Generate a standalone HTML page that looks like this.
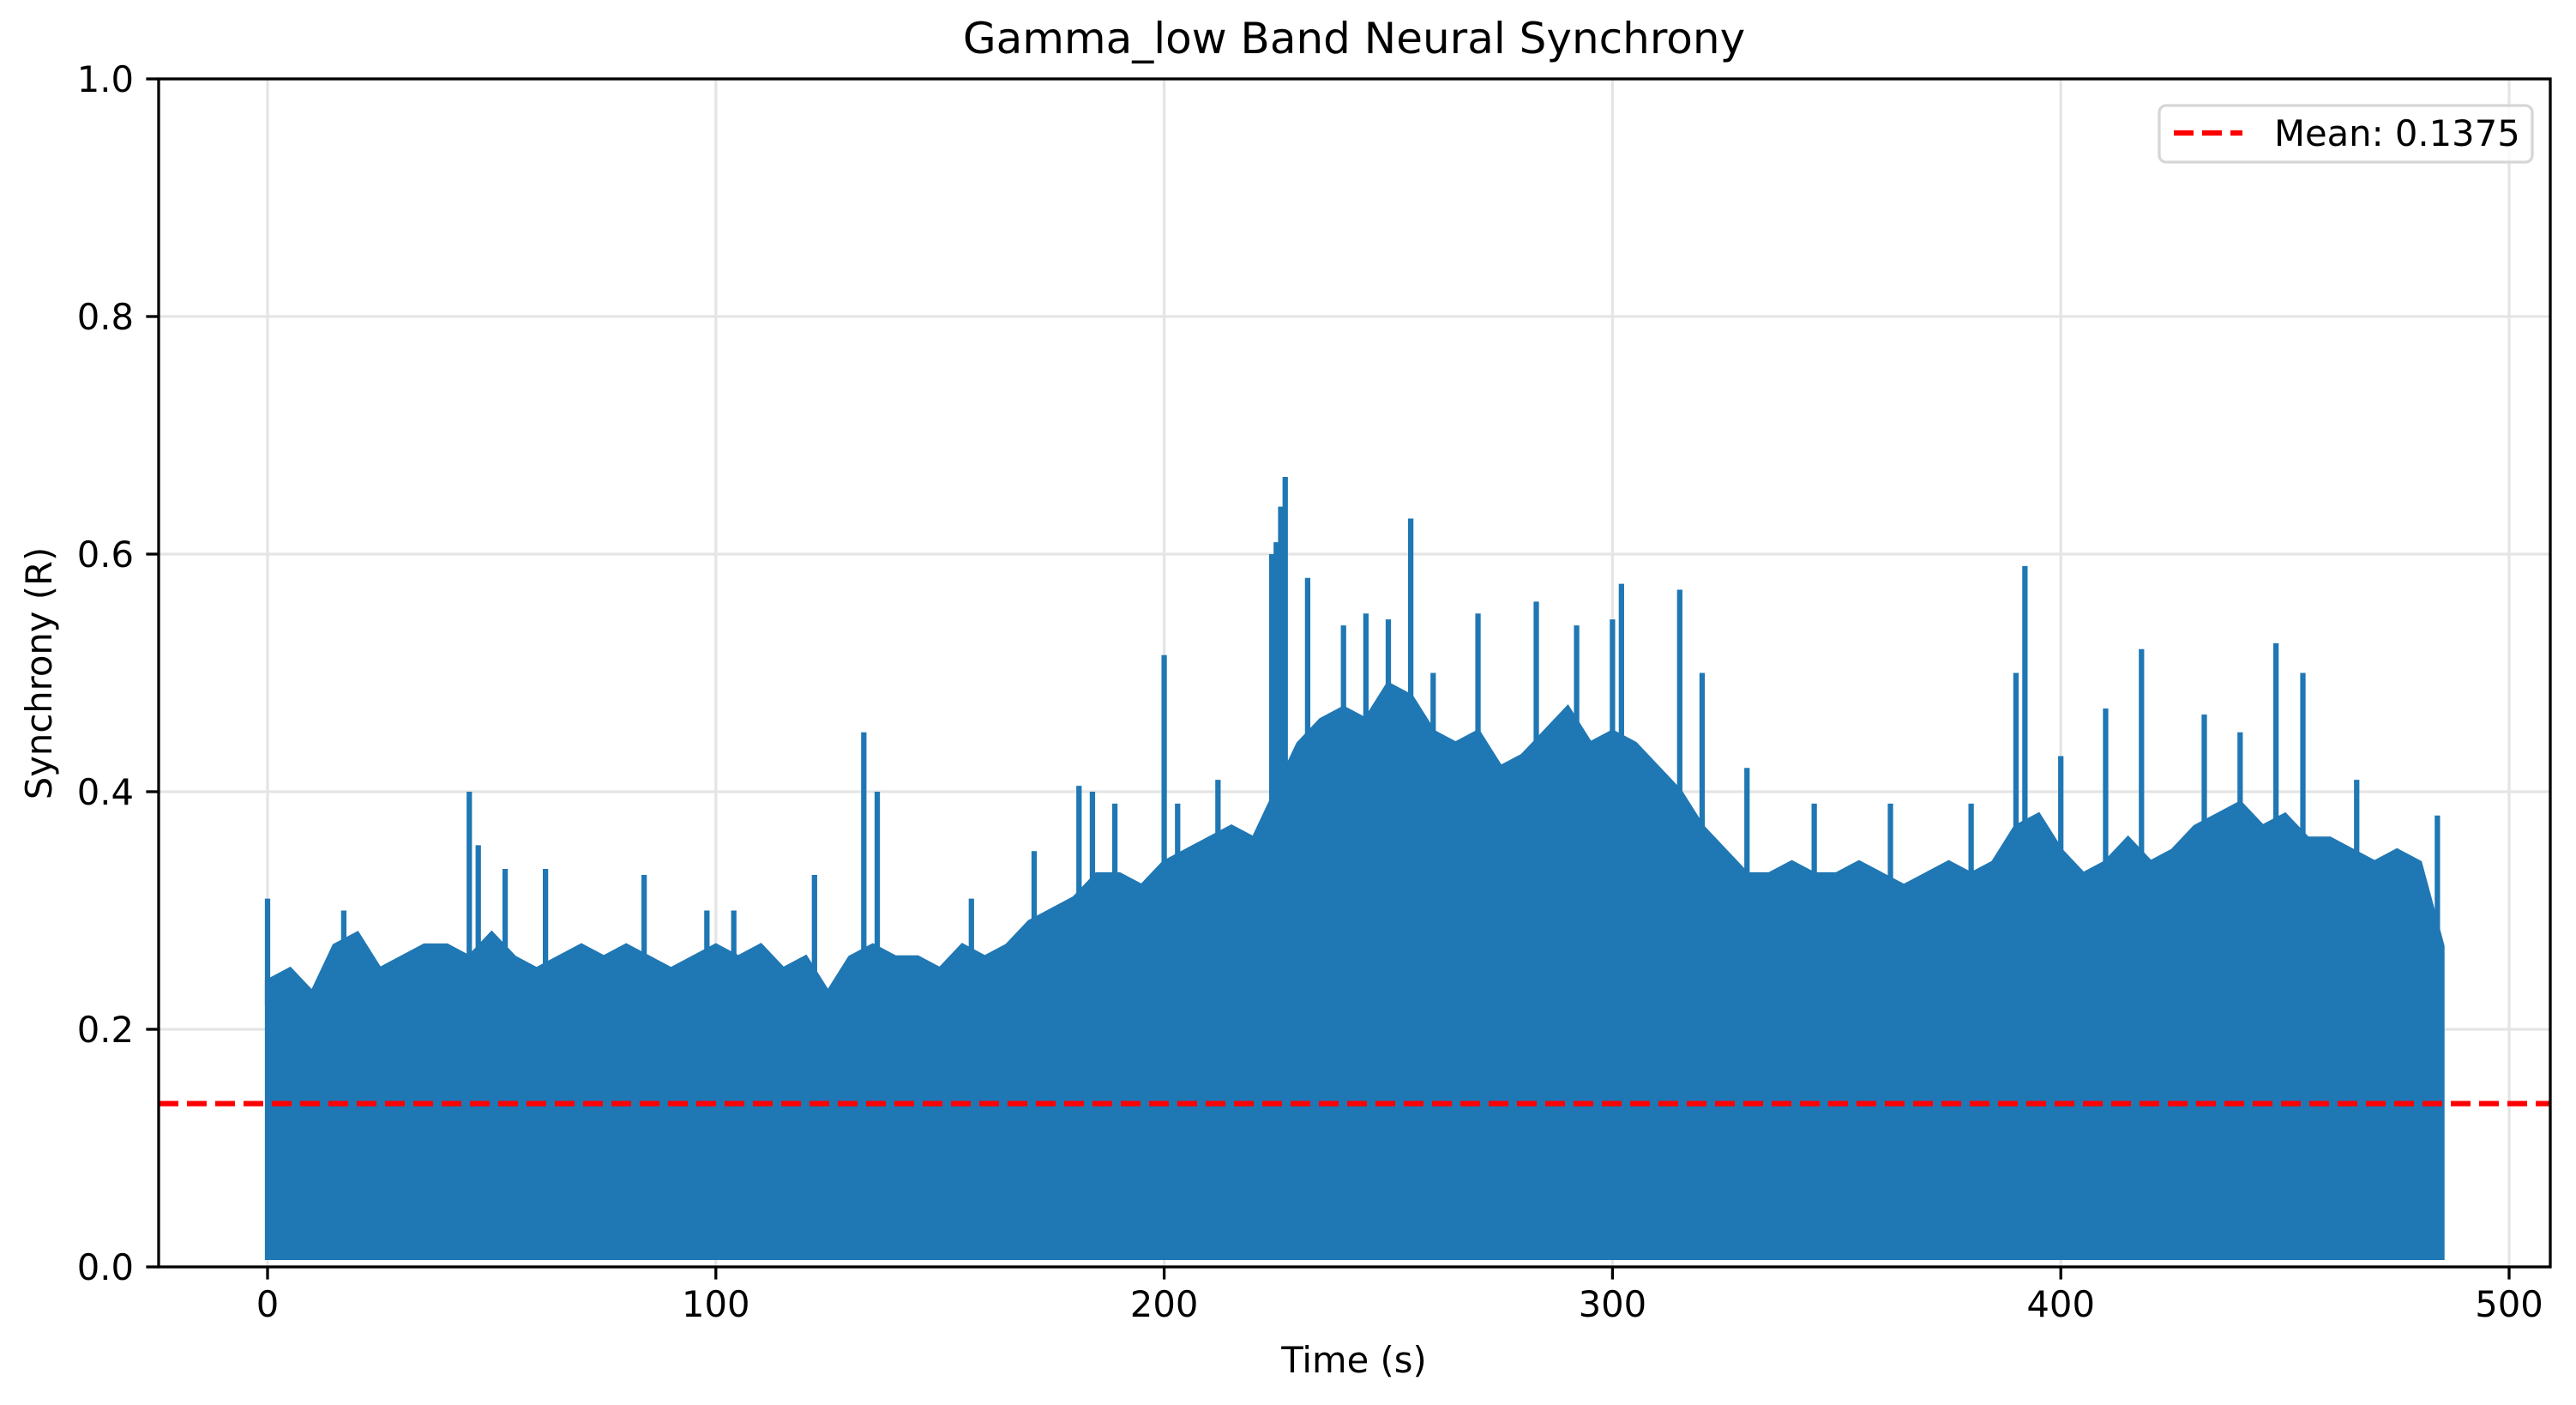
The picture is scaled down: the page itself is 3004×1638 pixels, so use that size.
<!DOCTYPE html>
<html><head><meta charset="utf-8"><style>
html,body{margin:0;padding:0;background:#fff;}
svg{display:block;font-family:"DejaVu Sans","Liberation Sans",sans-serif;}
</style></head><body>
<svg id="chart" width="3004" height="1638" viewBox="0 0 3004 1638" xmlns="http://www.w3.org/2000/svg">
<rect x="0" y="0" width="3004" height="1638" fill="#fff"/>
<g id="grid"></g>
<g id="series"></g>
<g id="meanline"></g>
<g id="axes"></g>
<text x="1579" y="62" font-size="50" text-anchor="middle">Gamma_low Band Neural Synchrony</text>
<text x="1579" y="1600" font-size="41.7" text-anchor="middle">Time (s)</text>
<text transform="translate(60,785) rotate(-90)" font-size="41.7" text-anchor="middle">Synchrony (R)</text>
<g>
<rect x="2518" y="123" width="435" height="66" rx="8" fill="#fff" fill-opacity="0.8" stroke="#d6d6d6" stroke-width="3.3"/>
<line x1="2535" y1="155" x2="2615" y2="155" stroke="#ff0000" stroke-width="6.25" stroke-dasharray="23,10"/>
<text x="2652" y="170" font-size="41.7">Mean: 0.1375</text>
</g>
</svg>
<script>
const xTicks=[0,100,200,300,400,500];
const yTicks=[0,0.2,0.4,0.6,0.8,1.0];
const yTickLabels=["0.0","0.2","0.4","0.6","0.8","1.0"];
const baseTimes=[0,5,10,15,20,25,30,35,40,45,50,55,60,65,70,75,80,85,90,95,100,105,110,115,120,125,130,135,140,145,150,155,160,165,170,175,180,185,190,195,200,205,210,215,220,225,230,235,240,245,250,255,260,265,270,275,280,285,290,295,300,305,310,315,320,325,330,335,340,345,350,355,360,365,370,375,380,385,390,395,400,405,410,415,420,425,430,435,440,445,450,455,460,465,470,475,480,485];
const baseValues=[0.24,0.25,0.23,0.27,0.28,0.25,0.26,0.27,0.27,0.26,0.28,0.26,0.25,0.26,0.27,0.26,0.27,0.26,0.25,0.26,0.27,0.26,0.27,0.25,0.26,0.23,0.26,0.27,0.26,0.26,0.25,0.27,0.26,0.27,0.29,0.30,0.31,0.33,0.33,0.32,0.34,0.35,0.36,0.37,0.36,0.40,0.44,0.46,0.47,0.46,0.49,0.48,0.45,0.44,0.45,0.42,0.43,0.45,0.47,0.44,0.45,0.44,0.42,0.40,0.37,0.35,0.33,0.33,0.34,0.33,0.33,0.34,0.33,0.32,0.33,0.34,0.33,0.34,0.37,0.38,0.35,0.33,0.34,0.36,0.34,0.35,0.37,0.38,0.39,0.37,0.38,0.36,0.36,0.35,0.34,0.35,0.34,0.27];
const lowValue=0.008;
const spikeTimes=[0,17,45,47,53,62,84,98,104,122,133,136,157,171,181,184,189,200,203,212,224,225,226,227,232,240,245,250,255,260,270,283,292,300,302,315,320,330,345,362,380,390,392,400,410,418,432,440,448,454,466,484];
const spikeValues=[0.31,0.30,0.40,0.355,0.335,0.335,0.33,0.30,0.30,0.33,0.45,0.40,0.31,0.35,0.405,0.40,0.39,0.515,0.39,0.41,0.60,0.61,0.64,0.665,0.58,0.54,0.55,0.545,0.63,0.50,0.55,0.56,0.54,0.545,0.575,0.57,0.50,0.42,0.39,0.39,0.39,0.50,0.59,0.43,0.47,0.52,0.465,0.45,0.525,0.50,0.41,0.38];
const meanValue=0.1375;

const L=185,R=2974,T=92,B=1477;
const xScale=t=>312+t*5.228;
const yScale=v=>B-v*(B-T);
const NS="http://www.w3.org/2000/svg";
function mk(tag,attrs,parent){const e=document.createElementNS(NS,tag);for(const k in attrs)e.setAttribute(k,attrs[k]);parent.appendChild(e);return e;}
const grid=document.getElementById('grid'),axes=document.getElementById('axes'),series=document.getElementById('series'),meanG=document.getElementById('meanline');

xTicks.forEach(t=>{
  const x=xScale(t);
  const g=mk('line',{x1:x,x2:x,y1:T,y2:B,stroke:'#e5e5e5','stroke-width':3.3},grid);
  
  
  const tk=mk('line',{x1:x,x2:x,y1:B,y2:B+14.6,stroke:'#000','stroke-width':3.3},axes);
  
  
  const tx=mk('text',{x:x,y:B+58,'font-size':41.7,'text-anchor':'middle'},axes);
  tx.textContent=String(t);
  
  
});
yTicks.forEach((v,i)=>{
  const y=yScale(v);
  const g=mk('line',{x1:L,x2:R,y1:y,y2:y,stroke:'#e5e5e5','stroke-width':3.3},grid);
  
  
  const tk=mk('line',{x1:L-14.6,x2:L,y1:y,y2:y,stroke:'#000','stroke-width':3.3},axes);
  
  
  const tx=mk('text',{x:L-29,y:y+15,'font-size':41.7,'text-anchor':'end'},axes);
  tx.textContent=yTickLabels[i];
  
  
});

let d='M'+xScale(baseTimes[0])+','+yScale(lowValue);
baseTimes.forEach((t,i)=>{d+=' L'+xScale(t)+','+yScale(baseValues[i]);});
d+=' L'+xScale(baseTimes[baseTimes.length-1])+','+yScale(lowValue)+' Z';
const band=mk('path',{d:d,fill:'#1f77b4',stroke:'#1f77b4','stroke-width':6.25,'stroke-linejoin':'miter'},series);



function baseAt(t){for(let i=0;i<baseTimes.length-1;i++){if(t>=baseTimes[i]&&t<=baseTimes[i+1]){const f=(t-baseTimes[i])/(baseTimes[i+1]-baseTimes[i]);return baseValues[i]+f*(baseValues[i+1]-baseValues[i]);}}return baseValues[baseValues.length-1];}
spikeTimes.forEach((t,i)=>{
  const x=xScale(t);
  const s=mk('line',{x1:x,x2:x,y1:yScale(baseAt(t)-0.02),y2:yScale(spikeValues[i]),stroke:'#1f77b4','stroke-width':6.25},series);
  
  
});

const ml=mk('line',{x1:L,x2:R,y1:yScale(meanValue),y2:yScale(meanValue),stroke:'#ff0000','stroke-width':6.25,'stroke-dasharray':'23,10'},meanG);



const sp=mk('rect',{x:L,y:T,width:R-L,height:B-T,fill:'none',stroke:'#000','stroke-width':3.3},axes);


</script>
</body></html>
